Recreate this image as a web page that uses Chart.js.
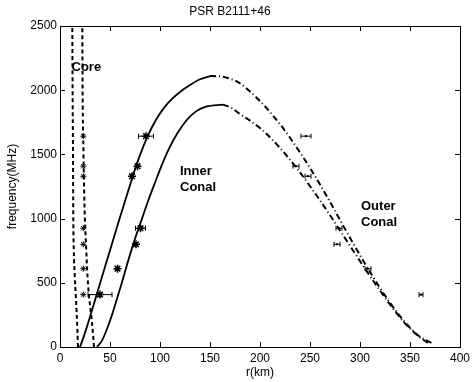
<!DOCTYPE html>
<html>
<head>
<meta charset="utf-8">
<script src="https://cdn.jsdelivr.net/npm/chart.js@4.4.0/dist/chart.umd.min.js"></script>
<style>
  html, body { margin: 0; padding: 0; background: #fff; }
</style>
</head>
<body>
<canvas id="chart" width="475" height="382"></canvas>
<script>
// axis ticks
const xTicks = [0, 50, 100, 150, 200, 250, 300, 350, 400]
const yTicks = [0, 500, 1000, 1500, 2000, 2500]

// core curves (dashed)
const coreLeftR = [18, 17.4, 16.7, 15.8, 14.8, 13.8, 13.3, 13.0, 12.6, 12.3]
const coreLeftF = [0, 130, 260, 400, 550, 750, 1000, 1500, 2000, 2500]
const coreRightR = [34, 32.7, 31, 29, 27.5, 26, 24.5, 23.5, 22.6, 22.3]
const coreRightF = [0, 130, 260, 400, 550, 800, 1100, 1500, 2000, 2500]

// upper conal curve: solid rise, dash-dot fall
const upperSolidR = [20, 25, 30, 35, 40, 46, 52, 59, 66, 72, 77, 82, 88, 96, 104, 112, 121, 130, 140, 150]
const upperSolidF = [0, 110, 235, 365, 495, 650, 805, 985, 1160, 1310, 1430, 1535, 1648, 1770, 1862, 1932, 1992, 2040, 2085, 2110]
const upperDashR = [150, 160, 170, 180, 190, 200, 210, 220, 230, 240, 250, 260, 270, 280, 290, 300, 310, 320, 330, 340, 350, 360, 372]
const upperDashF = [2110, 2108, 2090, 2054, 1990, 1915, 1830, 1735, 1630, 1515, 1395, 1265, 1130, 990, 850, 715, 585, 460, 345, 240, 150, 80, 30]

// lower conal curve
const lowerSolidR = [37, 42, 47, 52, 57, 62, 67, 72, 77, 82, 88, 95, 103, 110, 118, 127, 136, 146, 163]
const lowerSolidF = [0, 50, 140, 250, 375, 505, 640, 770, 890, 1000, 1135, 1280, 1440, 1560, 1672, 1770, 1835, 1872, 1888]
const lowerDashR = [163, 172, 180, 190, 200, 217, 237, 257, 278, 292, 307, 320, 330, 345, 358, 368]
const lowerDashF = [1888, 1860, 1815, 1763, 1705, 1576, 1390, 1176, 932, 764, 587, 439, 331, 184, 87, 32]

// measured points
const freqs = [1642, 1408, 1330, 925, 800, 610, 408]
const coreR = [23.3, 23.3, 23.3, 23.3, 23.3, 23.3, 23.3]
const innerR = [86, 77.5, 72, 80.5, 76, 57.5, 40]
const innerErr = [7.5, 0, 0, 5, 0, 0, 12]
const outerR = [246, 236, 248, 279, 277, 308, 361]
const outerErr = [5, 3, 3, 3, 3, 3, 2]

// text labels in the plot
const annoText = ['Core', 'Inner', 'Conal', 'Outer', 'Conal']
const annoR = [11.5, 120, 120, 301, 301]
const annoF = [2180, 1370, 1245, 1098, 973]

const FONT = "'Liberation Sans', Arial, Helvetica, sans-serif"

const pts = (rs, fs) => rs.map((r, i) => ({ x: r, y: fs[i] }))

function lineSet(rs, fs, dash, width) {
  return {
    type: 'scatter',
    data: pts(rs, fs),
    showLine: true,
    borderColor: '#000',
    borderWidth: width,
    borderDash: dash,
    pointRadius: 0,
    cubicInterpolationMode: 'monotone',
    fill: false
  }
}

function markSet(rs, style, radius, width, err) {
  return {
    type: 'scatter',
    data: pts(rs, freqs),
    pointStyle: style,
    pointRadius: radius,
    borderColor: '#000',
    backgroundColor: '#000',
    borderWidth: width,
    errX: err
  }
}

const errorBars = {
  id: 'errorBars',
  afterDatasetsDraw(chart) {
    const { ctx, scales: { x, y } } = chart
    ctx.save()
    ctx.strokeStyle = '#000'
    ctx.lineWidth = 1
    chart.data.datasets.forEach(ds => {
      if (!ds.errX) return
      ds.data.forEach((p, i) => {
        const e = ds.errX[i]
        if (!e) return
        const x0 = x.getPixelForValue(p.x - e)
        const x1 = x.getPixelForValue(p.x + e)
        const py = y.getPixelForValue(p.y)
        ctx.beginPath()
        ctx.moveTo(x0, py); ctx.lineTo(x1, py)
        ctx.moveTo(x0, py - 2.5); ctx.lineTo(x0, py + 2.5)
        ctx.moveTo(x1, py - 2.5); ctx.lineTo(x1, py + 2.5)
        ctx.stroke()
      })
    })
    ctx.restore()
  }
}

const frame = {
  id: 'frame',
  afterDraw(chart) {
    const { ctx, chartArea: a, scales: { x, y } } = chart
    ctx.save()
    ctx.strokeStyle = '#000'
    ctx.lineWidth = 1
    ctx.strokeRect(Math.round(a.left) + 0.5, Math.round(a.top) + 0.5,
      Math.round(a.right - a.left), Math.round(a.bottom - a.top))
    ctx.beginPath()
    xTicks.forEach(v => {
      const px = Math.round(x.getPixelForValue(v)) + 0.5
      ctx.moveTo(px, a.bottom); ctx.lineTo(px, a.bottom - 5)
      ctx.moveTo(px, a.top); ctx.lineTo(px, a.top + 5)
    })
    yTicks.forEach(v => {
      const py = Math.round(y.getPixelForValue(v)) + 0.5
      ctx.moveTo(a.left, py); ctx.lineTo(a.left + 5, py)
      ctx.moveTo(a.right, py); ctx.lineTo(a.right - 5, py)
    })
    ctx.stroke()

    ctx.fillStyle = '#000'
    ctx.font = 'bold 13px ' + FONT
    ctx.textAlign = 'left'
    ctx.textBaseline = 'middle'
    annoText.forEach((t, i) => {
      ctx.fillText(t, x.getPixelForValue(annoR[i]), y.getPixelForValue(annoF[i]))
    })
    ctx.restore()
  }
}

new Chart(document.getElementById('chart'), {
  type: 'scatter',
  data: {
    datasets: [
      lineSet(coreLeftR, coreLeftF, [4, 3], 2),
      lineSet(coreRightR, coreRightF, [4, 3], 2),
      lineSet(upperSolidR, upperSolidF, [], 1.8),
      lineSet(upperDashR, upperDashF, [6, 3, 1, 3], 2),
      lineSet(lowerSolidR, lowerSolidF, [], 1.8),
      lineSet(lowerDashR, lowerDashF, [6, 3, 1, 3], 2),
      markSet(coreR, 'star', 3, 1, null),
      markSet(innerR, 'star', 4, 1.5, innerErr),
      markSet(outerR, 'circle', 0.8, 1, outerErr)
    ]
  },
  options: {
    responsive: false,
    animation: false,
    layout: { padding: { left: 0, right: 15, top: 0, bottom: 0 } },
    plugins: {
      legend: { display: false },
      tooltip: { enabled: false },
      title: {
        display: true,
        text: 'PSR B2111+46',
        color: '#000',
        font: { family: FONT, size: 12, weight: 'normal' },
        padding: { top: 4, bottom: 7.6 }
      }
    },
    scales: {
      x: {
        type: 'linear',
        min: 0, max: 400,
        afterFit: s => { s.height = 35 },
        afterBuildTicks: s => { s.ticks = xTicks.map(v => ({ value: v })) },
        grid: { display: false, drawTicks: false },
        border: { display: false },
        ticks: { color: '#000', padding: 4, font: { family: FONT, size: 12 }, callback: v => String(v) },
        title: { display: true, text: 'r(km)', color: '#000', padding: { top: 0, bottom: 2 }, font: { family: FONT, size: 12 } }
      },
      y: {
        type: 'linear',
        min: 0, max: 2500,
        afterFit: s => { s.width = 60 },
        afterBuildTicks: s => { s.ticks = yTicks.map(v => ({ value: v })) },
        grid: { display: false, drawTicks: false },
        border: { display: false },
        ticks: { color: '#000', padding: 3, font: { family: FONT, size: 12 }, callback: v => String(v) },
        title: { display: true, text: 'frequency(MHz)', color: '#000', padding: { top: 5, bottom: 0 }, font: { family: FONT, size: 12 } }
      }
    }
  },
  plugins: [errorBars, frame]
})
</script>
</body>
</html>
